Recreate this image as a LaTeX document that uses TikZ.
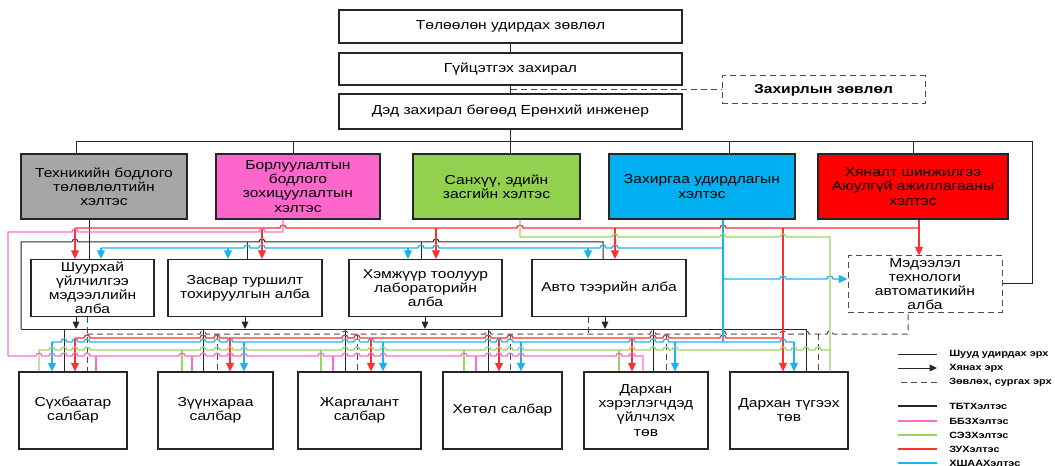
\documentclass[tikz,border=0pt]{standalone}
\usepackage{fontspec}
\setmainfont{Liberation Sans}[FakeStretch=1.2]
\usetikzlibrary{arrows.meta}
\definecolor{cgrey}{HTML}{A6A6A6}
\definecolor{cpink}{HTML}{FF66CC}
\definecolor{cgreen}{HTML}{92D050}
\definecolor{cblue}{HTML}{00B0F0}
\definecolor{cred}{HTML}{FF0000}
\definecolor{lred}{HTML}{FF3030}
\definecolor{lblue}{HTML}{1CB4EE}
\definecolor{lgreen}{HTML}{9CD55E}
\definecolor{lpink}{HTML}{FF6AD0}
\newcommand\boxfont{\fontsize{9.75pt}{10.6pt}\selectfont}
\newcommand\legfont{\fontsize{6.8pt}{8pt}\selectfont\bfseries}
\newcommand\hopseq[2]{\foreach \hh in {#2}{ -- ({\hh-3},#1) arc[start angle=180,end angle=0,radius=2.25pt]}}
\tikzset{
  bx/.style 2 args={draw=black!85, line width=0.8pt, minimum width=#1*0.75pt, minimum height=#2*0.75pt, inner sep=0pt, align=center, font=\boxfont},
  ln/.style={line width=0.75pt},
  cln/.style={line width=0.95pt},
  bk/.style={ln, draw=black!85},
  rd/.style={cln, draw=lred},
  bl/.style={cln, draw=lblue},
  gr/.style={cln, draw=lgreen},
  pk/.style={cln, draw=lpink},
  dsh/.style={ln, draw=black!70, dash pattern=on 4.5pt off 3pt},
  arr/.style={-{Triangle[length=6.5pt,width=6pt]}},
  barr/.style={-{Triangle[length=5.5pt,width=5pt]}},
  leg/.style={anchor=west, inner sep=0pt, font=\legfont},
  legln/.style={line width=1.1pt},
}
\begin{document}
\begin{tikzpicture}[x=0.75pt,y=-0.75pt]
\useasboundingbox (0,0) rectangle (1055,466);
% ---------- boxes ----------
\node[bx={343}{33}] (top1) at (510.5,26.5) {Төлөөлөн удирдах зөвлөл};
\node[bx={343}{32}] (top2) at (510.5,69) {Гүйцэтгэх захирал};
\node[bx={343}{35}] (top3) at (510.5,111.5) {Дэд захирал бөгөөд Ерөнхий инженер};
\node[bx={203}{28}, dsh, font=\boxfont\bfseries] (zah) at (823.5,90) {Захирлын зөвлөл};

\node[bx={166}{65}, fill=cgrey] (tb) at (104,186.5) {Техникийн бодлого\\төлөвлөлтийн\\хэлтэс};
\node[bx={164}{65}, fill=cpink] (bb) at (298,186.5) {Борлуулалтын\\бодлого\\зохицуулалтын\\хэлтэс};
\node[bx={167}{65}, fill=cgreen] (se) at (496.5,186.5) {Санхүү, эдийн\\засгийн хэлтэс};
\node[bx={186}{65}, fill=cblue] (zu) at (702,186.5) {Захиргаа удирдлагын\\хэлтэс};
\node[bx={190}{65}, fill=cred] (hs) at (913,186.5) {Хяналт шинжилгээ\\Аюулгүй ажиллагааны\\хэлтэс};

\node[bx={123}{57}] (sh) at (92.5,288) {Шуурхай\\үйлчилгээ\\мэдээллийн\\алба};
\node[bx={154}{57}] (zas) at (245,288) {Засвар туршилт\\тохируулгын алба};
\node[bx={153}{57}] (hem) at (425.5,288) {Хэмжүүр тоолуур\\лабораторийн\\алба};
\node[bx={154}{57}] (avto) at (609,288) {Авто тээрийн алба};
\node[bx={154}{56}, dsh] (mi) at (925,284) {Мэдээлэл\\технологи\\автоматикийн\\алба};

\node[bx={108}{77}] (suh) at (73,410.5) {Сүхбаатар\\салбар};
\node[bx={115}{77}] (zuun) at (215.5,410.5) {Зүүнхараа\\салбар};
\node[bx={123}{77}] (jar) at (359.5,410.5) {Жаргалант\\салбар};
\node[bx={119}{77}] (hot) at (502.5,410.5) {Хөтөл салбар};
\node[bx={124}{77}] (dh) at (646,410.5) {Дархан\\хэрэглэгчдэд\\үйлчлэх\\төв};
\node[bx={118}{77}] (dt) at (789,410.5) {Дархан түгээх\\төв};

% ---------- top chain ----------
\draw[bk] (top1) -- (top2);
\draw[bk] (top2) -- (top3);
\draw[dsh] (top2.south |- zah.west) -- (zah.west);
\draw[bk] (top3) -- (top3 |- se.north);
\draw[bk] (76,0 |- tb.north) -- (76,142) -- (1032,142) -- (1032,0 |- mi.east) -- (mi.east);
\draw[bk] (293,142) -- (293,0 |- bb.north);
\draw[bk] (729,142) -- (729,0 |- zu.north);
\draw[bk] (913,142) -- (913,0 |- hs.north);

% ---------- black (direct) ----------
\draw[bk] (89,0 |- tb.south) -- (89,0 |- sh.north);
\draw[bk] (21,329) -- (21,242) \hopseq{242}{75,262,436} -- (603,242) -- (603,0 |- avto.north);
\draw[bk] (247,242) -- (247,0 |- zas.north);
\draw[bk] (421,242) -- (421,0 |- hem.north);
\draw[bk] (21,329) -- (806,329) -- (806,0 |- dt.north);
\foreach \x/\n in {64/suh,203/zuun,345/jar,488/hot,653/dh} \draw[bk] (\x,329) -- (\x,0 |- \n.north);
\foreach \x/\n in {76/sh,245/zas,425/hem,605/avto} \draw[bk,barr] (\x,0 |- \n.south) -- (\x,329);

% ---------- dashed (advisory) ----------
\draw[dsh] (87,0 |- sh.south) -- (87,0 |- suh.north);
\draw[dsh] (87,334) \hopseq{334}{203,345,488,653,723,783,806,830} -- (908,334) -- (908,0 |- mi.south);
\draw[dsh] (588,0 |- avto.south) -- (588,334);
\foreach \x/\n in {217/zuun,357/jar,510/hot,666/dh,818/dt} \draw[dsh] (\x,334) -- (\x,0 |- \n.north);

% ---------- red ----------
\draw[rd] (75,228) \hopseq{228}{283,520,723} -- (919,228);
\draw[rd,arr] (919,0 |- hs.south) -- (919,0 |- mi.north);
\foreach \x/\n in {75/sh,262/zas,436/hem,615/avto} \draw[rd,arr] (\x,228) -- (\x,0 |- \n.north);
\draw[rd,arr] (783,228) -- (783,0 |- dt.north);
\draw[rd] (75,338) \hopseq{338}{87,203,217,345,357,488,510,653,666,723} -- (783,338);
\foreach \x/\n in {75/suh,230/zuun,371/jar,499/hot,632/dh} \draw[rd,arr] (\x,338) -- (\x,0 |- \n.north);

% ---------- blue ----------
\draw[bl] (723,0 |- zu.south) -- (723,342);
\draw[bl] (101,248) \hopseq{248}{247,262,421,436,603,615} -- (723,248);
\foreach \x/\n in {101/sh,228/zas,408/hem,588/avto} \draw[bl,arr] (\x,248) -- (\x,0 |- \n.north);
\draw[bl,arr] (723,279) \hopseq{279}{783,830} -- (723,279 -| mi.west);
\draw[bl] (52,342) \hopseq{342}{64,75,87,203,217,230,345,357,371,488,499,510,632,653,666,783} -- (794,342);
\foreach \x/\n in {52/suh,244/zuun,383/jar,521/hot,675/dh,794/dt} \draw[bl,arr] (\x,342) -- (\x,0 |- \n.north);

% ---------- green ----------
\draw[gr] (520,0 |- se.south) -- (520,237) \hopseq{237}{615,723,783} -- (830,237) -- (830,0 |- dt.north);
\draw[gr] (39,0 |- suh.north) -- (39,350) \hopseq{350}{52,64,75,87,203,217,230,244,345,357,371,383,488,499,510,521,632,653,666,675,783,794,806,818} -- (830,350);
\foreach \x/\n in {182/zuun,321/jar,464/hot,619/dh} \draw[gr] (\x,350) -- (\x,0 |- \n.north);

% ---------- pink ----------
\draw[pk] (8,356) -- (8,232) \hopseq{232}{75,262} -- (283,232) -- (283,0 |- bb.south);
\draw[pk] (8,356) \hopseq{356}{39,52,64,75,87,182,203,217,230,244,321,345,357,371,383,464,488,499,510,521,619,632} -- (643,356) -- (643,0 |- dh.north);
\foreach \x/\n in {96/suh,192/zuun,333/jar,476/hot} \draw[pk] (\x,356) -- (\x,0 |- \n.north);

% ---------- legend ----------
\node[leg] (l1) at (949,354) {Шууд удирдах эрх};
\node[leg] (l2) at (949,368) {Хянах эрх};
\node[leg] (l3) at (949,382) {Зөвлөх, сургах эрх};
\node[leg] (l4) at (949,406) {ТБТХэлтэс};
\node[leg] (l5) at (949,421) {ББЗХэлтэс};
\node[leg] (l6) at (949,435) {СЭЗХэлтэс};
\node[leg] (l7) at (949,449) {ЗУХэлтэс};
\node[leg] (l8) at (949,463) {ХШААХэлтэс};
\draw[bk] ([xshift=-9pt]l1.west) -- ++(-29pt,0);
\draw[bk,barr] ([xshift=-38pt]l2.west) -- ++(29pt,0);
\draw[dsh] ([xshift=-9pt]l3.west) -- ++(-29pt,0);
\draw[bk,legln] ([xshift=-9pt]l4.west) -- ++(-29pt,0);
\draw[pk,legln] ([xshift=-9pt]l5.west) -- ++(-29pt,0);
\draw[gr,legln] ([xshift=-9pt]l6.west) -- ++(-29pt,0);
\draw[rd,legln] ([xshift=-9pt]l7.west) -- ++(-29pt,0);
\draw[bl,legln] ([xshift=-9pt]l8.west) -- ++(-29pt,0);
\end{tikzpicture}
\end{document}
